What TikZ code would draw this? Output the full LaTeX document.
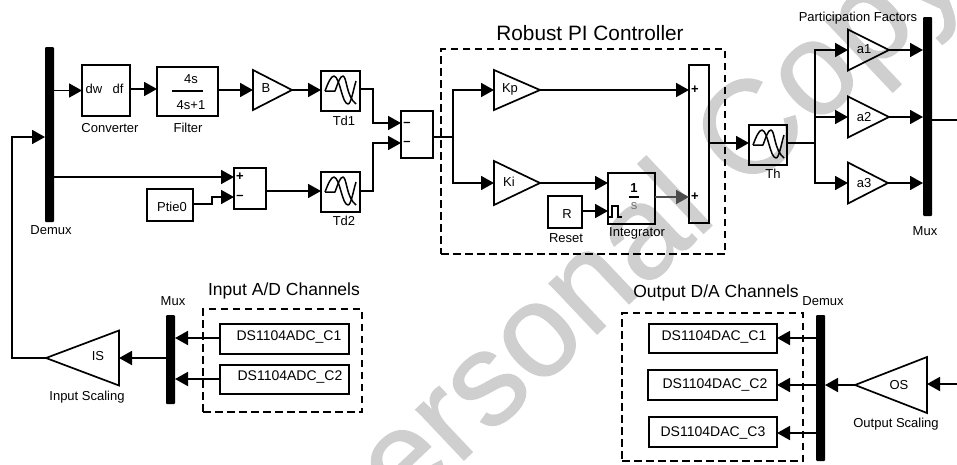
\documentclass[tikz,border=0pt]{standalone}
\usepackage{fontspec}
\setmainfont{Liberation Sans}
\newfontfamily\wmfont[FakeBold=0.9]{Liberation Sans}
\usetikzlibrary{shapes.geometric,arrows.meta,calc}
\definecolor{wmgrey}{HTML}{CFCFCF}
\tikzset{
  x=1pt,y=-1pt,
  wire/.style={line width=1.8pt,line join=miter,-{Triangle[length=13pt,width=14pt]}},
  plainwire/.style={line width=1.8pt},
  blockbox/.style={draw,line width=1.9pt,inner sep=0pt,outer sep=0pt,rectangle},
  busbar/.style={fill=black,inner sep=0pt,outer sep=0pt,rectangle,rounded corners=1pt},
  gainR/.style={draw,line width=1.7pt,isosceles triangle,isosceles triangle stretches,inner sep=0pt,outer sep=0pt,anchor=apex,shape border rotate=0},
  gainL/.style={draw,line width=1.7pt,isosceles triangle,isosceles triangle stretches,inner sep=0pt,outer sep=0pt,anchor=apex,shape border rotate=180},
  groupbox/.style={draw,line width=1.2pt,dash pattern=on 7.5pt off 4.5pt,inner sep=0pt,rectangle},
  lab/.style={inner sep=0pt,font=\fontsize{13}{13}\selectfont},
  hugelab/.style={inner sep=0pt,font=\fontsize{20.8}{21}\selectfont},
  biglab/.style={inner sep=0pt,font=\fontsize{17.5}{18}\selectfont},
  chan/.style={inner sep=0pt,font=\fontsize{14}{14}\selectfont},
  signlab/.style={inner sep=0pt,font=\bfseries\fontsize{13}{13}\selectfont},
}
\newcommand{\bx}[7][blockbox]{\node[#1,minimum width={#5-#3},minimum height={#6-#4}] (#2) at ({(#3+#5)/2},{(#4+#6)/2}) {#7};}
\newcommand{\delayicon}[2]{\begin{scope}[shift={(#1,#2)}]
  \draw[line width=1.5pt,line join=round] (4,20) .. controls (7,12) and (10,5) .. (13,5) .. controls (19,6) and (21,33) .. (27,33) .. controls (30,33) and (32,20) .. (35,10);
  \draw[line width=1.5pt,line join=round] (4,20) -- (14,20) .. controls (17,12) and (19,5) .. (22,5) .. controls (26,6) and (25,25) .. (35,33);
\end{scope}}
\begin{document}
\begin{tikzpicture}
\useasboundingbox (0,0) rectangle (957,464);
% watermark
\begin{scope}
\clip (0,0) rectangle (957,464);
\node[inner sep=0pt,rotate=43.4,text=wmgrey,font=\wmfont\fontsize{132}{132}\selectfont] (wm) at (631,255) {Personal Copy};
\end{scope}
% group boxes
\bx[groupbox]{pi}{441}{49}{725}{254}{}
\bx[groupbox]{adbox}{203}{309}{362}{412}{}
\bx[groupbox]{dabox}{622}{313}{803}{461}{}
% bars
\bx[busbar]{dmx}{45}{47}{54}{222}{}
\bx[busbar]{mux}{923}{17}{932}{216}{}
\bx[busbar]{mux2}{166}{315}{175}{404}{}
\bx[busbar]{dmx2}{816}{315}{825}{461}{}
% blocks
\bx{conv}{82}{65}{130}{116}{}
\bx{filt}{157}{67}{218}{116}{}
\bx{tdone}{321}{71}{360}{111}{}
\bx{tdtwo}{321}{172}{360}{212}{}
\bx{sumA}{401}{111}{433}{158}{}
\bx{sumB}{234}{168}{266}{209}{}
\bx{ptie}{147}{189}{193}{221}{}
\bx{integ}{608}{173}{655}{224}{}
\bx{reset}{548}{196}{582}{228}{}
\bx{sumC}{689}{65}{709}{223}{}
\bx{th}{749}{125}{787}{165}{}
\bx{adcA}{220}{324}{349}{354}{}
\bx{adcB}{220}{365}{349}{394}{}
\bx{dacA}{649}{324}{777}{353}{}
\bx{dacB}{648}{370}{777}{400}{}
\bx{dacC}{649}{417}{777}{447}{}
% gains
\node[gainR,minimum width=40pt,minimum height=39pt] (b) at (292,90) {};
\node[gainR,minimum width=40pt,minimum height=46pt] (kp) at (540,90) {};
\node[gainR,minimum width=44pt,minimum height=46pt] (ki) at (540,183) {};
\node[gainR,minimum width=41pt,minimum height=41pt] (aa) at (889,50) {};
\node[gainR,minimum width=41pt,minimum height=41pt] (ab) at (889,117) {};
\node[gainR,minimum width=41pt,minimum height=40pt] (ac) at (888,183) {};
\node[gainL,minimum width=55pt,minimum height=73pt] (is) at (46,358) {};
\node[gainL,minimum width=56pt,minimum height=72pt] (os) at (855,385) {};
% block icons
\delayicon{321}{71}
\delayicon{321}{172}
\delayicon{749}{125}
% texts in blocks
\node[lab] (tdw) at (94,89) {dw};
\node[lab] (tdf) at (118,89) {df};
\node[lab] (tfn) at (191,79) {4s};
\coordinate (fl) at (172,91); \coordinate (fr) at (203,91);
\draw[line width=1.9pt] (fl) -- (fr);
\node[lab] (tfd) at (191,105) {4s+1};
\node[lab] (tb) at (266,88) {B};
\node[lab] (tptie) at (172,207) {Ptie0};
\node[lab] (tkp) at (510,89) {Kp};
\node[lab] (tki) at (509,182) {Ki};
\node[lab] (tr) at (567,214) {R};
\node[lab,font=\bfseries\fontsize{13}{13}\selectfont] (tone) at (634,188) {1};
\coordinate (il) at (629,197); \coordinate (ir) at (639,197);
\draw[line width=1.4pt] (il) -- (ir);
\node[lab,text=black!55] (ts) at (634,206) {s};
\coordinate (ra) at (609,217);
\draw[line width=1.5pt] (ra) -- ++(3,0) -- ++(0,-11) -- ++(6,0) -- ++(0,11) -- ++(4,0);
\node[lab] (taa) at (864,49) {a1};
\node[lab] (tab) at (864,117) {a2};
\node[lab] (tac) at (864,183) {a3};
\node[lab] (tis) at (98,356) {IS};
\node[lab] (tos) at (899,385) {OS};
\node[chan] (tadcA) at (289,337) {DS1104ADC\_C1};
\node[chan] (tadcB) at (290,377) {DS1104ADC\_C2};
\node[chan] (tdacA) at (714,337) {DS1104DAC\_C1};
\node[chan] (tdacB) at (715,385) {DS1104DAC\_C2};
\node[chan] (tdacC) at (713,433) {DS1104DAC\_C3};
% sum signs
\node[signlab] (sp1) at (240,177) {+};
\node[signlab] (sm1) at (240,197) {--};
\node[signlab] (sp2) at (695,90) {+};
\node[signlab] (sp3) at (695,197) {+};
\node[signlab] (sm2) at (407,124) {--};
\node[signlab] (sm3) at (407,143) {--};
% labels
\node[lab] (lconv) at (110,128) {Converter};
\node[lab] (lfilt) at (188,128) {Filter};
\node[lab] (ltd1) at (344,121) {Td1};
\node[lab] (ltd2) at (344,221) {Td2};
\node[lab] (ldmx) at (51,230) {Demux};
\node[lab] (lreset) at (566,238) {Reset};
\node[lab] (linteg) at (637,233) {Integrator};
\node[lab] (lth) at (773,174) {Th};
\node[lab] (lmux) at (925,231) {Mux};
\node[lab] (lpf) at (858,18) {Participation Factors};
\node[lab] (lis) at (87,397) {Input Scaling};
\node[lab] (lmux2) at (173,301) {Mux};
\node[lab] (los) at (896,424) {Output Scaling};
\node[lab] (ldmx2) at (823,301) {Demux};
\node[hugelab] (lpi) at (590,33) {Robust PI Controller};
\node[biglab] (lad) at (284,291) {Input A/D Channels};
\node[biglab] (lda) at (716,293) {Output D/A Channels};
% connectors
\draw[wire] (dmx.east |- conv.west) -- (conv.west);
\draw[wire] (conv.east |- 0,89) -- (filt.west |- 0,89);
\draw[wire] (filt.east |- 0,90) -- (b.lower side |- 0,90);
\draw[wire] (b.apex) -- (tdone.west |- b.apex);
\coordinate (jA) at (373,89); \coordinate (jB) at (373,191);
\draw[wire] (tdone.east |- jA) -- (jA) -- (jA |- 0,123) -- (sumA.west |- 0,123);
\draw[wire] (tdtwo.east |- jB) -- (jB) -- (jB |- 0,143) -- (sumA.west |- 0,143);
\draw[wire] (dmx.east |- 0,177) -- (sumB.west |- 0,177);
\coordinate (pj) at (212,204);
\draw[wire] (ptie.east |- pj) -- (pj) -- (pj |- 0,197) -- (sumB.west |- 0,197);
\draw[wire] (sumB.east |- 0,191) -- (tdtwo.west |- 0,191);
\coordinate (jP) at (453,137);
\draw[plainwire] (sumA.east |- jP) -- (jP);
\draw[wire] (jP) -- (jP |- 0,90) -- (kp.lower side |- 0,90);
\draw[wire] (jP) -- (jP |- 0,183) -- (ki.lower side |- 0,183);
\draw[wire] (kp.apex) -- (sumC.west |- kp.apex);
\draw[wire] (ki.apex) -- (integ.west |- ki.apex);
\draw[wire] (reset.east |- 0,211) -- (integ.west |- 0,211);
\draw[wire,draw=black!70,fill=black!70] (integ.east |- 0,197) -- (sumC.west |- 0,197);
\draw[wire] (sumC.east |- 0,143) -- (th.west |- 0,143);
\coordinate (jT) at (815,143);
\draw[plainwire] (th.east |- jT) -- (jT);
\draw[wire] (jT) -- (jT |- aa.apex) -- (aa.lower side |- aa.apex);
\draw[wire] (jT |- ab.apex) -- (ab.lower side |- ab.apex);
\draw[plainwire] (jT) -- (jT |- ab.apex);
\draw[wire] (jT) -- (jT |- ac.apex) -- (ac.lower side |- ac.apex);
\draw[wire] (aa.apex) -- (mux.west |- aa.apex);
\draw[wire] (ab.apex) -- (mux.west |- ab.apex);
\draw[wire] (ac.apex) -- (mux.west |- ac.apex);
\coordinate (muxout) at (957,120);
\draw[plainwire] (mux.east |- muxout) -- (muxout);
\coordinate (osin) at (957,384);
\draw[wire] (osin) -- (os.lower side |- osin);
\draw[wire] (os.apex) -- (dmx2.east |- os.apex);
\draw[wire] (dmx2.west |- 0,338) -- (dacA.east |- 0,338);
\draw[wire] (dmx2.west |- 0,385) -- (dacB.east |- 0,385);
\draw[wire] (dmx2.west |- 0,433) -- (dacC.east |- 0,433);
\draw[wire] (adcA.west |- 0,338) -- (mux2.east |- 0,338);
\draw[wire] (adcB.west |- 0,379) -- (mux2.east |- 0,379);
\draw[wire] (mux2.west |- is.apex) -- (is.lower side |- is.apex);
\coordinate (fbk) at (12,137);
\draw[wire] (is.apex) -- (fbk |- is.apex) -- (fbk) -- (dmx.west |- fbk);
\end{tikzpicture}
\end{document}
